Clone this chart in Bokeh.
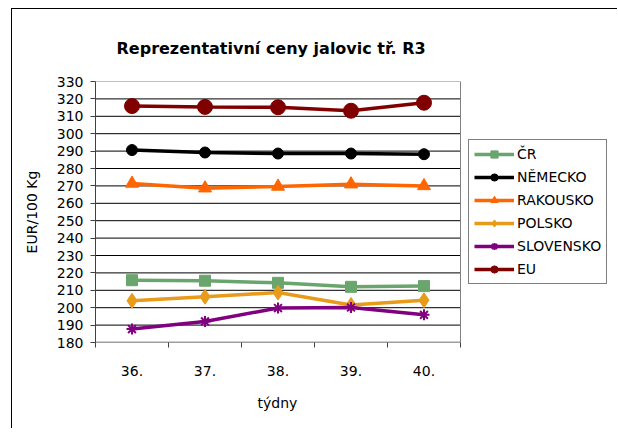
from bokeh.plotting import figure
from bokeh.models import Range1d, FixedTicker, Legend, LegendItem, Title
from bokeh.embed import file_html
from bokeh.resources import INLINE

weeks = ["36.", "37.", "38.", "39.", "40."]
cr = [215.8, 215.5, 214.3, 212.0, 212.4]
nemecko = [290.6, 289.2, 288.6, 288.6, 288.2]
rakousko = [271.4, 268.7, 269.7, 271.0, 270.0]
polsko = [204.0, 206.3, 208.7, 201.6, 204.3]
slovensko = [187.7, 192.1, 199.8, 200.1, 195.9]
eu = [315.9, 315.4, 315.2, 313.2, 317.8]
y_ticks = list(range(180, 331, 10))

FONT = "DejaVu Sans"
n = len(weeks)
xs = list(range(1, n + 1))
x_lo, x_hi = 0.5, n + 0.5
FRAME_W = 517
UNIT = 73
x_end = x_lo + FRAME_W / UNIT

p = figure(width=606, height=420, output_backend="svg", toolbar_location=None,
           x_range=Range1d(x_lo, x_end), y_range=Range1d(y_ticks[0], y_ticks[-1]),
           min_border_left=83, min_border_right=6, min_border_top=72, min_border_bottom=87)
p.styles = {"border-left": "1px solid black", "border-top": "1px solid black",
            "margin-left": "11px", "margin-top": "8px"}

p.title.text = "Reprezentativní ceny jalovic tř. R3\n "
p.title.align = "left"
p.title.offset = 21
p.title.text_font = FONT
p.title.text_font_size = "16px"
p.title.text_font_style = "bold"
p.title.text_color = "black"
p.title.text_line_height = 1.0

p.outline_line_color = None
p.xgrid.grid_line_color = None
p.ygrid.grid_line_color = None

# plot-area grid and border limited to the category span
p.segment(x0=[x_lo] * (len(y_ticks) - 2), x1=[x_hi] * (len(y_ticks) - 2),
          y0=y_ticks[1:-1], y1=y_ticks[1:-1], line_color="black", line_width=1)
p.segment(x0=[x_lo], x1=[x_hi], y0=[y_ticks[-1]], y1=[y_ticks[-1]], line_color="#808080", line_width=1)
p.segment(x0=[x_hi], x1=[x_hi], y0=[y_ticks[0]], y1=[y_ticks[-1]], line_color="#808080", line_width=1)
p.segment(x0=[x_lo], x1=[x_hi], y0=[y_ticks[0]], y1=[y_ticks[0]], line_color="#404040", line_width=1.5)

p.yaxis.ticker = FixedTicker(ticks=y_ticks)
p.yaxis.major_tick_out = 5
p.yaxis.major_tick_in = 0
p.yaxis.minor_tick_out = 0
p.yaxis.minor_tick_in = 0
p.yaxis.axis_line_color = "#404040"
p.yaxis.major_tick_line_color = "#404040"
p.yaxis.major_label_text_font = FONT
p.yaxis.major_label_text_font_size = "14px"
p.yaxis.major_label_text_color = "black"
p.yaxis.major_label_standoff = 7
p.yaxis.axis_label = "EUR/100 Kg"
p.yaxis.axis_label_text_font = FONT
p.yaxis.axis_label_text_font_size = "14px"
p.yaxis.axis_label_text_font_style = "normal"
p.yaxis.axis_label_text_color = "black"
p.yaxis.axis_label_standoff = 14

p.xaxis.ticker = FixedTicker(ticks=xs, minor_ticks=[x_lo + i for i in range(n + 1)])
p.xaxis.major_label_overrides = {i + 1: w for i, w in enumerate(weeks)}
p.xaxis.major_tick_out = 0
p.xaxis.major_tick_in = 0
p.xaxis.minor_tick_out = 5
p.xaxis.minor_tick_in = 0
p.xaxis.minor_tick_line_color = "#404040"
p.xaxis.axis_line_color = None
p.xaxis.major_label_text_font = FONT
p.xaxis.major_label_text_font_size = "14px"
p.xaxis.major_label_text_color = "black"
p.xaxis.major_label_standoff = 18

xlab = Title(text="\ntýdny", align="left", offset=162, text_font=FONT, text_font_size="14px",
             text_font_style="normal", text_color="black", text_line_height=0.6)
p.add_layout(xlab, "below")

series = [
    ("ČR", cr, "#6aa56e", "square", 11),
    ("NĚMECKO", nemecko, "black", "circle", 11),
    ("RAKOUSKO", rakousko, "#ff6600", "triangle", 13),
    ("POLSKO", polsko, "#e89a1a", "diamond", 15),
    ("SLOVENSKO", slovensko, "#800080", "asterisk", 11),
    ("EU", eu, "#800000", "circle", 15),
]

items = []
for name, vals, col, mk, sz in series:
    r1 = p.line(xs, vals, line_color=col, line_width=3.5)
    r2 = p.scatter(xs, vals, marker=mk, size=sz, fill_color=col, line_color=col,
                   line_width=2 if mk == "asterisk" else 1)
    items.append(LegendItem(label=name, renderers=[r1, r2]))

legend = Legend(items=items, location=(373, 58), margin=0,
                border_line_color="black", border_line_width=1,
                label_text_font=FONT, label_text_font_size="14px", label_text_color="black",
                glyph_width=40, glyph_height=18, spacing=5, padding=5,
                label_standoff=3)
p.add_layout(legend, "center")

open("out.html", "w").write(file_html(p, INLINE))
